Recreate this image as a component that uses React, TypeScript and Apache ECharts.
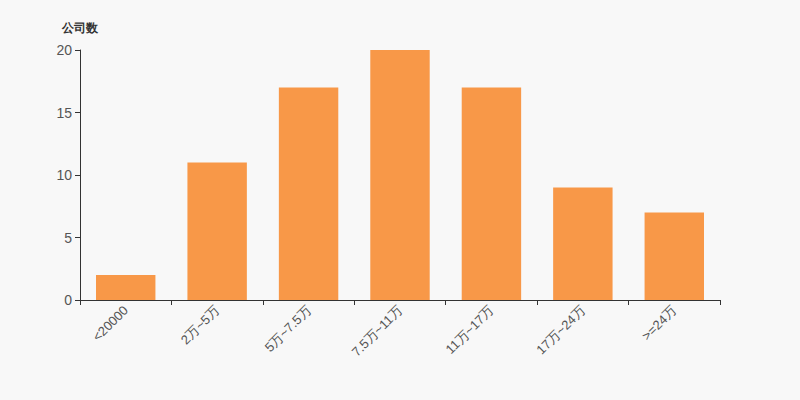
import React, { useEffect, useRef } from "react";
import * as echarts from "echarts";

const categories = ["<20000", "2万~5万", "5万~7.5万", "7.5万~11万", "11万~17万", "17万~24万", ">=24万"];
const values = [2, 11, 17, 20, 17, 9, 7];

export default function App() {
  const ref = useRef<HTMLDivElement>(null);
  useEffect(() => {
    const chart = echarts.init(ref.current!, null, { renderer: "svg" });
    chart.setOption({
      animation: false,
      backgroundColor: "#f8f8f8",
      grid: { left: 80, right: 80, top: 50, bottom: 100 },
      xAxis: {
        type: "category",
        data: categories,
        axisLine: { lineStyle: { color: "#333" } },
        axisTick: { show: true, length: 5, lineStyle: { color: "#333" } },
        axisLabel: { rotate: 45, color: "#555", fontSize: 13, interval: 0, margin: 8 },
      },
      yAxis: {
        type: "value",
        name: "公司数",
        nameGap: 16,
        nameTextStyle: { color: "#333", fontWeight: "bold", fontSize: 12, align: "center", padding: [0, 0, 0, 0] },
        min: 0,
        max: 20,
        interval: 5,
        splitLine: { show: false },
        axisLine: { show: true, lineStyle: { color: "#333" } },
        axisTick: { show: true, length: 5, lineStyle: { color: "#333" } },
        axisLabel: { color: "#555", fontSize: 14 },
      },
      series: [
        {
          type: "bar",
          data: values,
          barWidth: "65%",
          itemStyle: { color: "#f89848" },
        },
      ],
    });
    return () => chart.dispose();
  }, []);
  return <div ref={ref} style={{ width: 800, height: 400, position: "absolute", left: 0, top: 0 }} />;
}
